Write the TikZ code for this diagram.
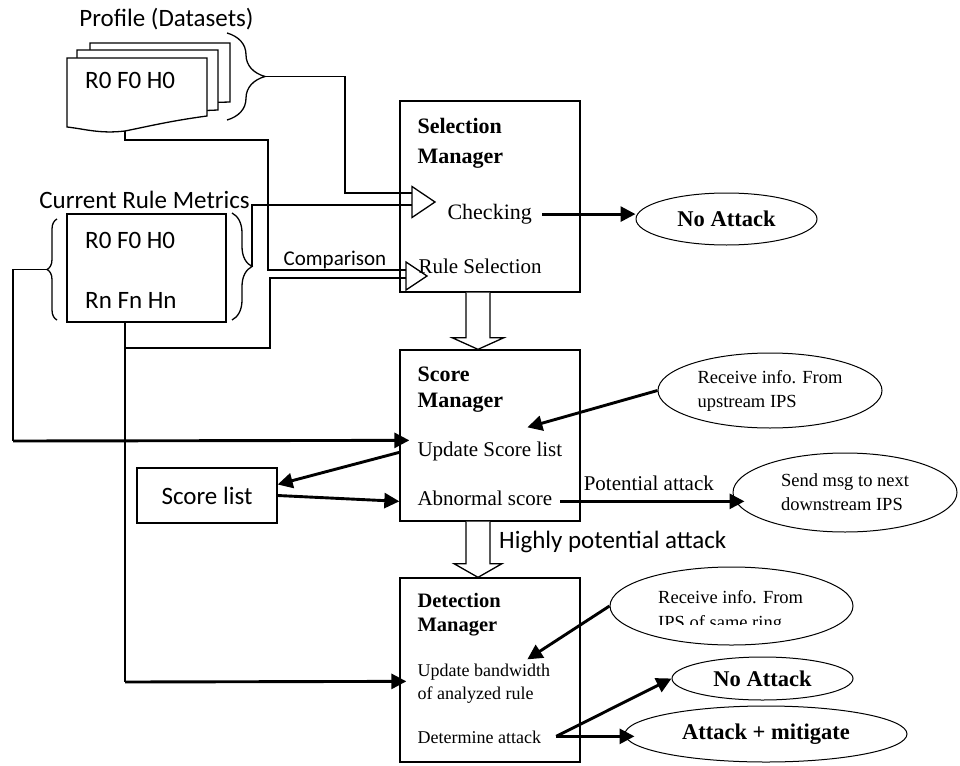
\documentclass[tikz,border=0pt]{standalone}
\usepackage{fontspec}
\setmainfont{Liberation Serif}
\newfontfamily\calibri{Carlito}
\usetikzlibrary{shapes.geometric, arrows.meta, positioning, calc, decorations.pathreplacing}
\tikzstyle{mgr} = [rectangle, draw, line width=1.3pt, minimum width=180, inner sep=0]
\tikzstyle{plainbox} = [rectangle, draw, line width=1.3pt, inner sep=0]
\tikzstyle{oval} = [ellipse, draw, line width=1pt, inner sep=0, align=left]
\tikzstyle{line} = [line width=1.3pt]
\tikzstyle{arrow} = [line width=2.9pt, -{Triangle[length=15pt,width=15pt]}]
\tikzstyle{hollow} = [line width=1.3pt, fill=white, line join=miter]
\tikzstyle{sheet} = [line width=1.3pt, fill=white]
\tikzstyle{sanstxt} = [font=\calibri\fontsize{25}{30}\selectfont, inner sep=0]
\tikzstyle{title} = [font=\bfseries\fontsize{22}{30}\selectfont, inner sep=0, anchor=base west]
\tikzstyle{body} = [font=\fontsize{21}{25}\selectfont, inner sep=0, anchor=base west]
\tikzstyle{small} = [font=\fontsize{18}{23}\selectfont, inner sep=0, anchor=base west]
\tikzstyle{info} = [font=\fontsize{18.5}{24}\selectfont]
\tikzstyle{result} = [font=\bfseries\fontsize{22.5}{27}\selectfont]

\begin{document}
\begin{tikzpicture}[x=1pt, y=-1pt]
        \useasboundingbox (0,0) rectangle (960,765);

        % Profile stack
        \node[sanstxt, anchor=base] (proflabel) at (166.5,27) {Profile (Datasets)};
        \draw[sheet] (90,43) -- (230,43) -- (230,102) -- (90,106) -- cycle;
        \draw[sheet] (77,50) -- (218,50) -- (218,110) -- (77,116) -- cycle;
        \draw[sheet] (67,58) -- (207,58) -- (207,116) .. controls (170,121) and (150,126) .. (125,131)
              .. controls (100,134) and (85,129) .. (67,127) -- cycle;
        \node[sanstxt, anchor=base west] (prof) at (85,89) {R0 F0 H0};
        \coordinate (pbot) at (125,131);
        \draw[line, decorate, decoration={brace, amplitude=38pt}] (227,33) -- (227,120);
        \coordinate (ptip) at (265,76.5);

        % Current rule metrics
        \node[sanstxt, anchor=base] (crmlabel) at (144.5,208) {Current Rule Metrics};
        \node[plainbox, minimum width=159, minimum height=108] (crm) at (146.5,268) {};
        \node[sanstxt, anchor=base west] (crm0) at (85,248) {R0 F0 H0};
        \node[sanstxt, anchor=base west] (crmn) at (85,308) {Rn Fn Hn};
        \draw[line, decorate, decoration={brace, amplitude=20pt}] (232,213) -- (232,320);
        \coordinate (ctip) at (252,266.5);
        \draw[line, decorate, decoration={brace, amplitude=10pt}] (57,320) -- (57,219);
        \coordinate (ltip) at (47,269.5);

        % Managers
        \node[mgr, minimum height=191] (sel) at (490,196.5) {};
        \node[title] (selt1) at ($(sel.north west)+(18,33)$) {Selection};
        \node[title] (selt2) at ($(sel.north west)+(18,63)$) {Manager};
        \node[body, font=\fontsize{22}{26}\selectfont] (chk) at ($(sel.north west)+(48,119)$) {Checking};
        \node[body] (rsel) at ($(sel.north west)+(19,173)$) {Rule Selection};

        \node[mgr, minimum height=171] (score) at (490,435.5) {};
        \node[title] (sct1) at ($(score.north west)+(18,32)$) {Score};
        \node[title] (sct2) at ($(score.north west)+(18,58)$) {Manager};
        \node[body] (upd) at ($(score.north west)+(18,107)$) {Update Score list};
        \node[body] (abn) at ($(score.north west)+(18,156)$) {Abnormal score};

        \node[mgr, minimum height=184] (det) at (490,670) {};
        \node[title, font=\bfseries\fontsize{20.5}{24}\selectfont] (dt1) at ($(det.north west)+(18,30)$) {Detection};
        \node[title, font=\bfseries\fontsize{20.5}{24}\selectfont] (dt2) at ($(det.north west)+(18,54)$) {Manager};
        \node[small] (upb) at ($(det.north west)+(18,99)$) {Update bandwidth};
        \node[small] (upb2) at ($(det.north west)+(18,122)$) {of analyzed rule};
        \node[small] (dta) at ($(det.north west)+(18,166)$) {Determine attack};

        \node[plainbox, minimum width=140, minimum height=55, sanstxt] (slist) at (207,495.5) {Score list};

        % Ellipses
        \node[oval, result, minimum width=181, minimum height=52] (na1) at (726.5,219) {No Attack};
        \node[oval, info, minimum width=224, minimum height=75] (rcv1) at (770,390.5) {Receive info. From\\upstream IPS};
        \node[oval, info, minimum width=224, minimum height=79] (smsg) at (845,492.5) {Send msg to next\\downstream IPS};
        \node[oval, minimum width=243, minimum height=78] (rcv2) at (731.5,606) {};
        \node[small, info] (rcv2a) at (658,603) {Receive info. From};
        \begin{scope}
            \clip (600,560) rectangle (870,624);
            \node[small, info] (rcv2b) at (658,628) {IPS of same ring};
        \end{scope}
        \node[oval, result, minimum width=181, minimum height=43] (na2) at (762.5,678.5) {No Attack};
        \node[oval, result, minimum width=282, minimum height=56] (am) at (766,734) {Attack + mitigate};

        % Input triangles
        \coordinate (chkin) at (412,202);
        \coordinate (rulin) at (406,276);
        \draw[line] (chkin) ++(0,-15.5) -- ++(23,15.5) -- ++(-23,15.5) -- cycle;
        \draw[line] (rulin) ++(0,-14) -- ++(21,14) -- ++(-21,14) -- cycle;

        % Connect nodes
        \draw[line] (ptip) -- (345,76.5) |- ($(chkin)+(0,-9)$);
        \draw[line] (ctip) |- ($(chkin)+(0,3)$);
        \draw[line] (pbot) -- (125,140) -| (268,270) -- ($(rulin)+(0,-6)$);
        \draw[line] (crm.south -| pbot) -- (125,348) -| (270,278) -- ($(rulin)+(0,2)$);
        \node[sanstxt, font=\calibri\fontsize{21}{25}\selectfont, anchor=base] (cmp) at (335,265) {Comparison};

        \coordinate (lcorner) at (13,441);
        \draw[line] (ltip) -- (13,269.5) -- (lcorner);
        \draw[arrow] (lcorner) -- ($(upd.base west)+(-8,-16)$);
        \coordinate (dcorner) at (125,682);
        \draw[line] (crm.south -| pbot) -- (dcorner);
        \draw[arrow] (dcorner) -- ($(upb.base west)+(-11,5)$);

        \draw[arrow] ($(chk.east)+(10,0)$) -- (chk.east -| na1.west);
        \draw[arrow] (rcv1.west) -- ($(upd.base west)+(110,-29)$);
        \draw[arrow] ($(upd.base west -| score.west)+(0,-4)$) -- ($(slist.east)+(0,-11)$);
        \draw[arrow] (slist.east) -- ($(abn.base west -| score.west)+(0,-4)$);
        \draw[arrow] ($(abn.base east)+(8,-4)$) -- node[body, anchor=south, above=9pt, pos=.48] (pot) {Potential attack} ($(abn.base east -| smsg.west)+(12,-4)$);
        \draw[arrow] (rcv2.west) -- ($(upb.base west)+(110,-17)$);
        \draw[arrow] ($(dta.base east)+(15,-7)$) -- (na2.west);
        \draw[arrow] ($(dta.base east)+(15,-7)$) -- ($(dta.base east -| am.west)+(10,-7)$);

        % Hollow arrows between managers
        \draw[hollow] ($(sel.south)+(-24,0)$) -- ($(sel.south)+(-24,45)$) -- ($(sel.south)+(-38,45)$) -- ($(score.north)+(-12,0)$)
              -- ($(sel.south)+(14,45)$) -- ($(sel.south)+(0,45)$) -- (sel.south);
        \draw[hollow] ($(score.south)+(-24,0)$) -- ($(score.south)+(-24,42)$) -- ($(score.south)+(-36,42)$) -- ($(det.north)+(-12,0)$)
              -- ($(score.south)+(12,42)$) -- ($(score.south)+(0,42)$) -- (score.south);
        \node[sanstxt, anchor=base west] (hpa) at (499,548) {Highly potential attack};
    \end{tikzpicture}
\end{document}
